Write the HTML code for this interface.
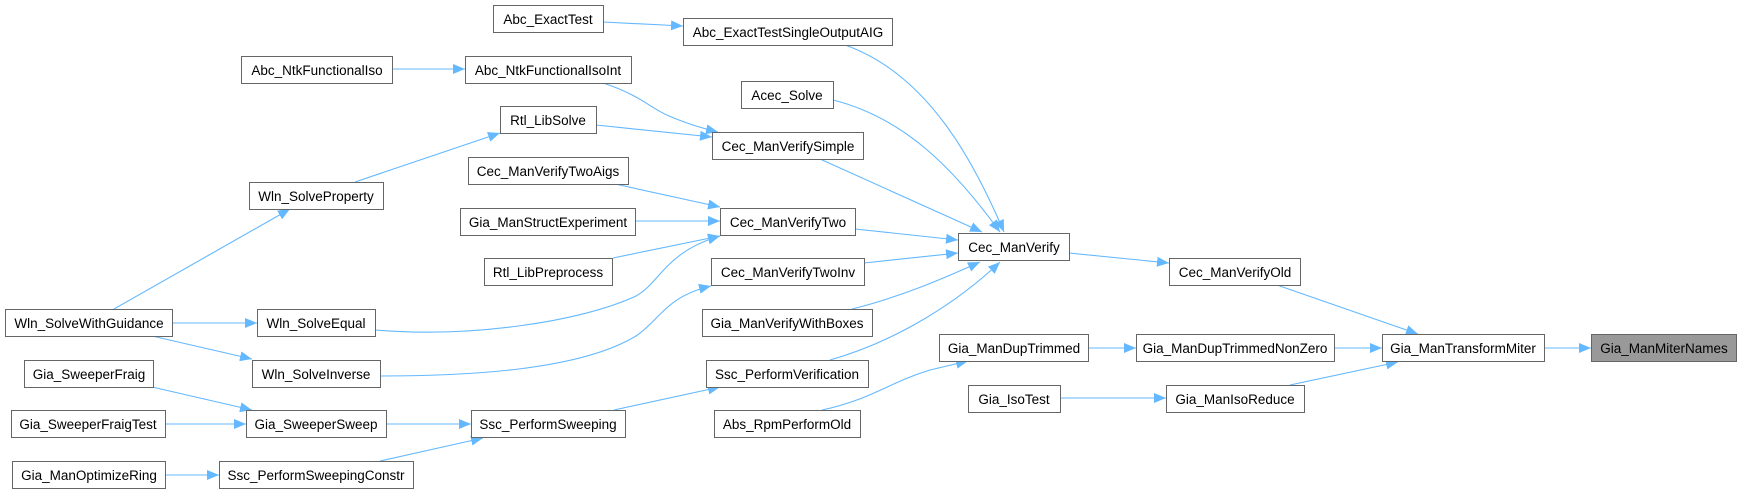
<!DOCTYPE html>
<html><head><meta charset="utf-8"><style>
html,body{margin:0;padding:0;background:#fff;}
svg{display:block;}
text{font-family:"Liberation Sans",Arial,sans-serif;font-size:13.5px;fill:#000;}
.n{fill:#fff;stroke:#666;stroke-width:1;}
.e{fill:none;stroke:#63b8ff;stroke-width:1.1;}
</style></head><body>
<svg width="1741" height="493" viewBox="0 0 1741 493" xmlns="http://www.w3.org/2000/svg">
<defs>
<marker id="a" markerUnits="userSpaceOnUse" markerWidth="13" markerHeight="10" refX="12" refY="5" orient="auto">
<path d="M0,0 L12,5 L0,10 z" fill="#63b8ff"/>
</marker>
</defs>
<g marker-end="url(#a)">
<path class="e" d="M603,22 L683,26"/>
<path class="e" d="M392,69 L465,69"/>
<path class="e" d="M603,83 C640,95 650,108 669,116 C690,125 705,129 718,132"/>
<path class="e" d="M596,125 L712,137"/>
<path class="e" d="M355,182 L500,133"/>
<path class="e" d="M114,309 L290,209"/>
<path class="e" d="M172,323 L257,323"/>
<path class="e" d="M152,336 L252,359"/>
<path class="e" d="M375,330 C470,338 580,322 636,296 C660,283 665,252 720,236"/>
<path class="e" d="M380,376 C470,376 580,370 636,336 C660,320 665,297 711,286"/>
<path class="e" d="M615,184 L720,207"/>
<path class="e" d="M635,221 L720,221"/>
<path class="e" d="M613,258 L720,236"/>
<path class="e" d="M152,387 L252,410"/>
<path class="e" d="M165,424 L246,424"/>
<path class="e" d="M386,424 L471,424"/>
<path class="e" d="M165,475 L219,475"/>
<path class="e" d="M380,461 L483,438"/>
<path class="e" d="M614,410 L720,387"/>
<path class="e" d="M845,45 C930,75 975,165 1004,232"/>
<path class="e" d="M833,100 C905,118 955,170 1000,232"/>
<path class="e" d="M820,159 L982,232"/>
<path class="e" d="M855,229 L958,240"/>
<path class="e" d="M864,263 L958,253"/>
<path class="e" d="M852,309 C900,297 940,280 980,262"/>
<path class="e" d="M830,360 C900,340 960,300 1000,262"/>
<path class="e" d="M822,410 C870,400 890,382 930,370 L968,361"/>
<path class="e" d="M1069,253 L1169,263"/>
<path class="e" d="M1088,348 L1136,348"/>
<path class="e" d="M1060,398 L1166,398"/>
<path class="e" d="M1277,285 L1418,334"/>
<path class="e" d="M1334,348 L1382,348"/>
<path class="e" d="M1290,385 L1398,362"/>
<path class="e" d="M1544,348 L1591,348"/>
</g>
<g text-anchor="middle">
<rect class="n" x="493.5" y="5.5" width="110" height="27"/><text x="548" y="24">Abc_ExactTest</text>
<rect class="n" x="683.5" y="18.5" width="209" height="27"/><text x="788" y="37">Abc_ExactTestSingleOutputAIG</text>
<rect class="n" x="241.5" y="56.5" width="151" height="27"/><text x="317" y="75">Abc_NtkFunctionalIso</text>
<rect class="n" x="465.5" y="56.5" width="166" height="27"/><text x="548" y="75">Abc_NtkFunctionalIsoInt</text>
<rect class="n" x="741.5" y="81.5" width="92" height="27"/><text x="787" y="100">Acec_Solve</text>
<rect class="n" x="500.5" y="106.5" width="96" height="27"/><text x="548" y="125">Rtl_LibSolve</text>
<rect class="n" x="712.5" y="132.5" width="151" height="27"/><text x="788" y="151">Cec_ManVerifySimple</text>
<rect class="n" x="468.5" y="157.5" width="160" height="27"/><text x="548" y="176">Cec_ManVerifyTwoAigs</text>
<rect class="n" x="249.5" y="182.5" width="134" height="27"/><text x="316" y="201">Wln_SolveProperty</text>
<rect class="n" x="460.5" y="208.5" width="175" height="27"/><text x="548" y="227">Gia_ManStructExperiment</text>
<rect class="n" x="720.5" y="208.5" width="135" height="27"/><text x="788" y="227">Cec_ManVerifyTwo</text>
<rect class="n" x="958.5" y="233.5" width="111" height="27"/><text x="1014" y="252">Cec_ManVerify</text>
<rect class="n" x="484.5" y="258.5" width="128" height="27"/><text x="548" y="277">Rtl_LibPreprocess</text>
<rect class="n" x="711.5" y="258.5" width="153" height="27"/><text x="788" y="277">Cec_ManVerifyTwoInv</text>
<rect class="n" x="1169.5" y="258.5" width="131" height="27"/><text x="1235" y="277">Cec_ManVerifyOld</text>
<rect class="n" x="5.5" y="309.5" width="167" height="27"/><text x="89" y="328">Wln_SolveWithGuidance</text>
<rect class="n" x="257.5" y="309.5" width="118" height="27"/><text x="316" y="328">Wln_SolveEqual</text>
<rect class="n" x="702.5" y="309.5" width="170" height="27"/><text x="787" y="328">Gia_ManVerifyWithBoxes</text>
<rect class="n" x="939.5" y="334.5" width="149" height="27"/><text x="1014" y="353">Gia_ManDupTrimmed</text>
<rect class="n" x="1136.5" y="334.5" width="198" height="27"/><text x="1235" y="353">Gia_ManDupTrimmedNonZero</text>
<rect class="n" x="1382.5" y="334.5" width="162" height="27"/><text x="1463" y="353">Gia_ManTransformMiter</text>
<rect x="1591.5" y="334.5" width="145" height="27" fill="#999" stroke="#666"/><text x="1664" y="353">Gia_ManMiterNames</text>
<rect class="n" x="24.5" y="360.5" width="129" height="27"/><text x="89" y="379">Gia_SweeperFraig</text>
<rect class="n" x="252.5" y="360.5" width="128" height="27"/><text x="316" y="379">Wln_SolveInverse</text>
<rect class="n" x="706.5" y="360.5" width="162" height="27"/><text x="787" y="379">Ssc_PerformVerification</text>
<rect class="n" x="968.5" y="385.5" width="92" height="27"/><text x="1014" y="404">Gia_IsoTest</text>
<rect class="n" x="1166.5" y="385.5" width="138" height="27"/><text x="1235" y="404">Gia_ManIsoReduce</text>
<rect class="n" x="11.5" y="410.5" width="154" height="27"/><text x="88" y="429">Gia_SweeperFraigTest</text>
<rect class="n" x="246.5" y="410.5" width="140" height="27"/><text x="316" y="429">Gia_SweeperSweep</text>
<rect class="n" x="471.5" y="410.5" width="154" height="27"/><text x="548" y="429">Ssc_PerformSweeping</text>
<rect class="n" x="714.5" y="410.5" width="146" height="27"/><text x="787" y="429">Abs_RpmPerformOld</text>
<rect class="n" x="12.5" y="461.5" width="153" height="27"/><text x="89" y="480">Gia_ManOptimizeRing</text>
<rect class="n" x="219.5" y="461.5" width="194" height="27"/><text x="316" y="480">Ssc_PerformSweepingConstr</text>
</g>
</svg>
</body></html>
